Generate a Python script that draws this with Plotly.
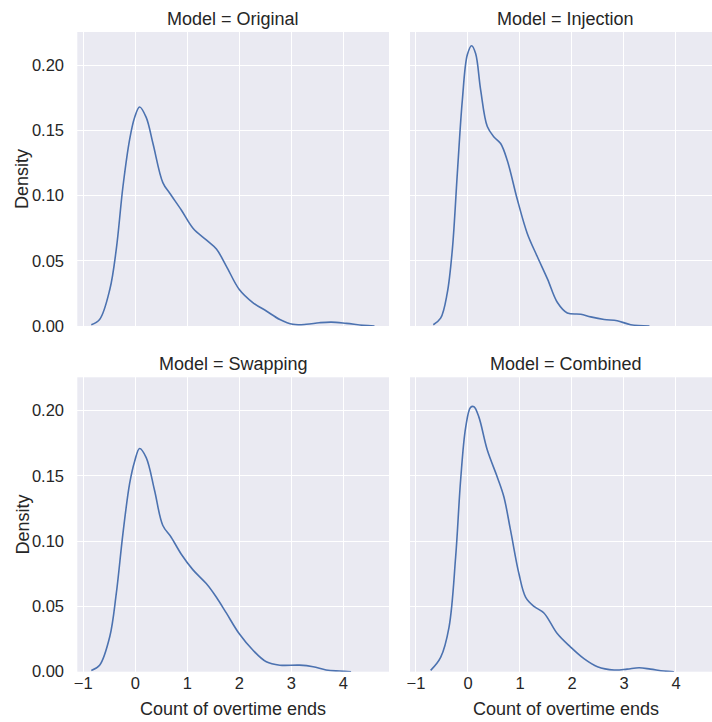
import plotly.graph_objects as go

# ---- data ----
models = ["Original", "Injection", "Swapping", "Combined"]

orig_x = [-0.846, -0.686, -0.49, -0.365, -0.237, -0.109, -0.013, 0.083, 0.21, 0.34, 0.53, 0.66, 0.885,
          1.11, 1.365, 1.56, 1.75, 2.0, 2.26, 2.52, 2.78, 3.03, 3.29, 3.54, 3.77, 4.06, 4.38, 4.6]
orig_y = [0.001, 0.005, 0.028, 0.059, 0.107, 0.143, 0.160, 0.168, 0.160, 0.140, 0.110, 0.102, 0.089,
          0.075, 0.066, 0.059, 0.046, 0.028, 0.018, 0.0115, 0.005, 0.0013, 0.0013, 0.0025, 0.003, 0.002, 0.0005, 0.0]

inj_x = [-0.667, -0.526, -0.40, -0.30, -0.205, -0.109, -0.013, 0.07, 0.147, 0.244, 0.372, 0.5, 0.628,
         0.756, 0.949, 1.14, 1.33, 1.53, 1.72, 1.91, 2.17, 2.36, 2.62, 2.87, 3.13, 3.49]
inj_y = [0.001, 0.006, 0.025, 0.059, 0.117, 0.173, 0.208, 0.215, 0.209, 0.181, 0.153, 0.145, 0.140,
         0.127, 0.097, 0.071, 0.0535, 0.036, 0.018, 0.010, 0.009, 0.007, 0.005, 0.004, 0.001, 0.0]

swap_x = [-0.846, -0.686, -0.49, -0.365, -0.237, -0.109, -0.013, 0.083, 0.21, 0.37, 0.53, 0.69, 0.885,
          1.11, 1.365, 1.56, 1.75, 2.0, 2.26, 2.52, 2.78, 3.16, 3.42, 3.67, 3.93, 4.15]
swap_y = [0.001, 0.005, 0.027, 0.060, 0.106, 0.144, 0.161, 0.171, 0.164, 0.139, 0.112, 0.103, 0.090,
          0.078, 0.0675, 0.057, 0.045, 0.029, 0.0166, 0.0076, 0.005, 0.005, 0.0038, 0.0013, 0.0005, 0.0]

comb_x = [-0.718, -0.526, -0.365, -0.237, -0.141, -0.045, 0.05, 0.115, 0.21, 0.37, 0.564, 0.69, 0.82,
          0.98, 1.11, 1.27, 1.46, 1.72, 1.97, 2.23, 2.49, 2.81, 3.06, 3.29, 3.51, 3.77, 3.96]
comb_y = [0.001, 0.011, 0.034, 0.088, 0.147, 0.187, 0.2025, 0.203, 0.195, 0.170, 0.149, 0.134, 0.108,
          0.075, 0.057, 0.050, 0.045, 0.029, 0.019, 0.010, 0.0038, 0.0013, 0.002, 0.003, 0.002, 0.0005, 0.0]

series_x = [orig_x, inj_x, swap_x, comb_x]
series_y = [orig_y, inj_y, swap_y, comb_y]

x_ticks = [-1, 0, 1, 2, 3, 4]
x_tick_labels = ["\u22121", "0", "1", "2", "3", "4"]
y_ticks = [0.0, 0.05, 0.10, 0.15, 0.20]
y_tick_labels = ["0.00", "0.05", "0.10", "0.15", "0.20"]

# ---- layout geometry ----
W, H = 712, 722
BG = "#EAEAF2"
TXT = "#262626"
FONT = "Liberation Sans, Arial, sans-serif"
LINE = "#4C72B0"

px_per_unit = 52.0
left_cols = [(77.3, 389.0), (410.0, 712.0)]
rows = [(32.0, 326.0), (377.3, 671.7)]
x0_val = -1.115

fig = go.Figure()

for i, m in enumerate(models):
    r, c = divmod(i, 2)
    ax = "" if i == 0 else str(i + 1)
    xa, ya = "x" + ax, "y" + ax
    fig.add_trace(go.Scatter(x=series_x[i], y=series_y[i], mode="lines",
                             line=dict(color=LINE, width=1.6, shape="spline", smoothing=1.0),
                             xaxis=xa, yaxis=ya, showlegend=False, hoverinfo="skip"))
    xl, xr = left_cols[c]
    yt, yb = rows[r]
    x_range = [x0_val, x0_val + (xr - xl) / px_per_unit]
    fig.layout["xaxis" + ax] = dict(
        domain=[xl / W, xr / W], anchor=ya, range=x_range, automargin=False,
        tickvals=x_ticks, ticktext=x_tick_labels, showticklabels=(r == 1),
        showgrid=True, gridcolor="white", gridwidth=1.3, zeroline=False, showline=False,
        ticks="", tickfont=dict(size=16.5, color=TXT, family=FONT))
    fig.layout["yaxis" + ax] = dict(
        domain=[1 - yb / H, 1 - yt / H], anchor=xa, range=[0, 0.2255], automargin=False,
        tickvals=y_ticks, ticktext=y_tick_labels, showticklabels=(c == 0),
        showgrid=True, gridcolor="white", gridwidth=1.3, zeroline=False, showline=False,
        ticks="outside" if c == 0 else "", ticklen=9, tickcolor="rgba(0,0,0,0)",
        tickfont=dict(size=16.5, color=TXT, family=FONT))
    # panel title
    fig.add_annotation(text=f"Model = {m}", xref="paper", yref="paper",
                       x=(xl + (xl + 311.7)) / 2 / W, y=1 - (yt - 13) / H,
                       showarrow=False, xanchor="center", yanchor="middle",
                       font=dict(size=18, color=TXT, family=FONT))
    if c == 0:
        fig.add_annotation(text="Density", xref="paper", yref="paper",
                           x=22 / W, y=1 - ((yt + yb) / 2) / H, textangle=-90,
                           showarrow=False, xanchor="center", yanchor="middle",
                           font=dict(size=18, color=TXT, family=FONT))
    if r == 1:
        fig.add_annotation(text="Count of overtime ends", xref="paper", yref="paper",
                           x=(xl + (xl + 311.7)) / 2 / W, y=1 - 709 / H,
                           showarrow=False, xanchor="center", yanchor="middle",
                           font=dict(size=18, color=TXT, family=FONT))

fig.update_layout(width=W, height=H, margin=dict(l=0, r=0, t=0, b=0),
                  paper_bgcolor="white", plot_bgcolor=BG,
                  font=dict(family=FONT, color=TXT))

fig.write_html("out.html")
